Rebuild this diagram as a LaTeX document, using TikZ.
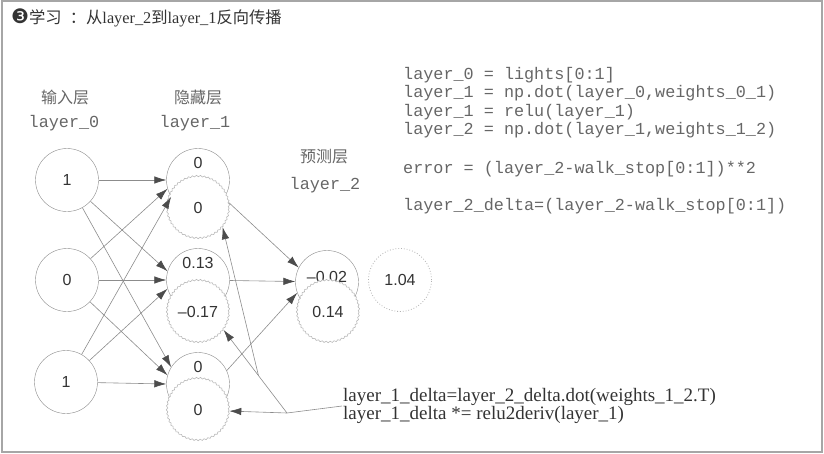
\documentclass[tikz,border=0pt]{standalone}
\usepackage{fontspec}
\setmainfont{Liberation Serif}
\setsansfont{Liberation Sans}
\setmonofont{Liberation Mono}
\newfontfamily\cjk{Noto Sans CJK SC}
\newfontfamily\dingbat{DejaVu Sans}
\usetikzlibrary{arrows.meta,decorations.pathmorphing,calc}

\definecolor{linegray}{gray}{0.55}
\definecolor{tipgray}{gray}{0.3}
\definecolor{textgray}{gray}{0.4}
\definecolor{valgray}{gray}{0.2}

\tikzset{
	frame/.style={draw=gray!70, line width=1.2pt},
	neuron/.style={circle, draw=linegray, fill=white, minimum size=63pt, inner sep=0pt,
		text=valgray, font=\sffamily\fontsize{16}{18}\selectfont},
	deltaneuron/.style={neuron, draw=gray!55, line width=0.6pt, minimum size=62pt,
		decorate, decoration={snake, amplitude=0.7pt, segment length=4pt}},
	value/.style={inner sep=0pt, text=valgray, font=\sffamily\fontsize{16}{18}\selectfont},
	wire/.style={draw=linegray, line width=0.6pt, -{Latex[length=12pt,width=7.5pt,color=tipgray]}},
	cnlabel/.style={text=textgray, font=\cjk\fontsize{16}{18}\selectfont},
	varname/.style={text=textgray, font=\ttfamily\fontsize{16.8}{18}\selectfont},
	codeline/.style={anchor=base west, inner sep=0pt, text=textgray, font=\ttfamily\fontsize{16.8}{18}\selectfont},
}

\begin{document}
\begin{tikzpicture}[x=1pt, y=-1pt]
	\useasboundingbox (0,0) rectangle (824,453);
	\draw[frame] (2,1) rectangle (822,452);
	
	% Titel
	\node[anchor=west, inner sep=0pt, text=valgray, font=\fontsize{16.3}{18}\selectfont] (title) at (11,18)
		{{\dingbat\fontsize{20}{20}\selectfont ❸}{\cjk 学习\enskip：从}layer\_2{\cjk 到}layer\_1{\cjk 反向传播}};
	
	% Ebenen
	\node[cnlabel] (incap) at (65,97) {输入层};
	\node[varname] (inname) at (64,123) {layer\_0};
	\node[cnlabel] (hidcap) at (198,97) {隐藏层};
	\node[varname] (hidname) at (195,123) {layer\_1};
	\node[cnlabel] (outcap) at (324,157) {预测层};
	\node[varname] (outname) at (325,185) {layer\_2};
	
	% Eingabe
	\node[neuron] (i1) at (67,180) {1};
	\node[neuron] (i2) at (67,280) {0};
	\node[neuron] (i3) at (66,382) {1};
	
	% versteckte Schicht: Wert und Delta
	\node[neuron, label={[value, label distance=-21pt]90:0}] (h1) at (198,180) {};
	\node[neuron, label={[value, label distance=-21pt]90:0.13}] (h2) at (198,280) {};
	\node[neuron, label={[value, label distance=-21pt]90:0}] (h3) at (198,384) {};
	\node[deltaneuron] (h1w) at (198,208) {0};
	\node[deltaneuron] (h2w) at (198,312) {–0.17};
	\node[deltaneuron] (h3w) at (198,410) {0};
	
	% Vorhersage
	\node[neuron, label={[value, label distance=-33pt]90:–0.02}] (o) at (327,282) {};
	\node[deltaneuron] (ow) at (328,312) {0.14};
	\node[neuron, draw=gray!60, line width=0.8pt, dotted] (target) at (400,280) {1.04};
	
	% Gewichte
	\foreach \i in {1,2,3}
		\foreach \j in {1,2,3}{
			\pgfmathtruncatemacro\a{180+16*(\i-\j)}
			\draw[wire] (i\i) -- (h\j.\a);
		}
	\draw[wire] (h1w.10) -- (o.153);
	\draw[wire] (h2) -- (o);
	\draw[wire] (h3.25) -- (o.200);
	
	% Code
	\foreach \y/\txt in {79/{layer\_0 = lights[0:1]},
		97/{layer\_1 = np.dot(layer\_0,weights\_0\_1)},
		116/{layer\_1 = relu(layer\_1)},
		134/{layer\_2 = np.dot(layer\_1,weights\_1\_2)},
		173/{error = (layer\_2-walk\_stop[0:1])**2},
		210/{layer\_2\_delta=(layer\_2-walk\_stop[0:1])}}
		\node[codeline] at (403,\y) {\txt};
	
	% Rueckwaerts
	\node[anchor=west, inner sep=1pt, align=left, text=valgray,
		font=\fontsize{19}{15.5}\selectfont] (backprop) at (342,406)
		{layer\_1\_delta=layer\_2\_delta.dot(weights\_1\_2.T)\\
		 layer\_1\_delta *= relu2deriv(layer\_1)};
	\coordinate (J) at (287,413);
	\draw[draw=linegray, line width=0.6pt] (backprop.west) -- (J);
	\draw[wire] (J) -- (h3w);
	\draw[wire] (J) -- (h2w.-35);
	\draw[wire] ($(J)!0.45!(h2w.-35)$) -- (h1w.-38);
\end{tikzpicture}
\end{document}
